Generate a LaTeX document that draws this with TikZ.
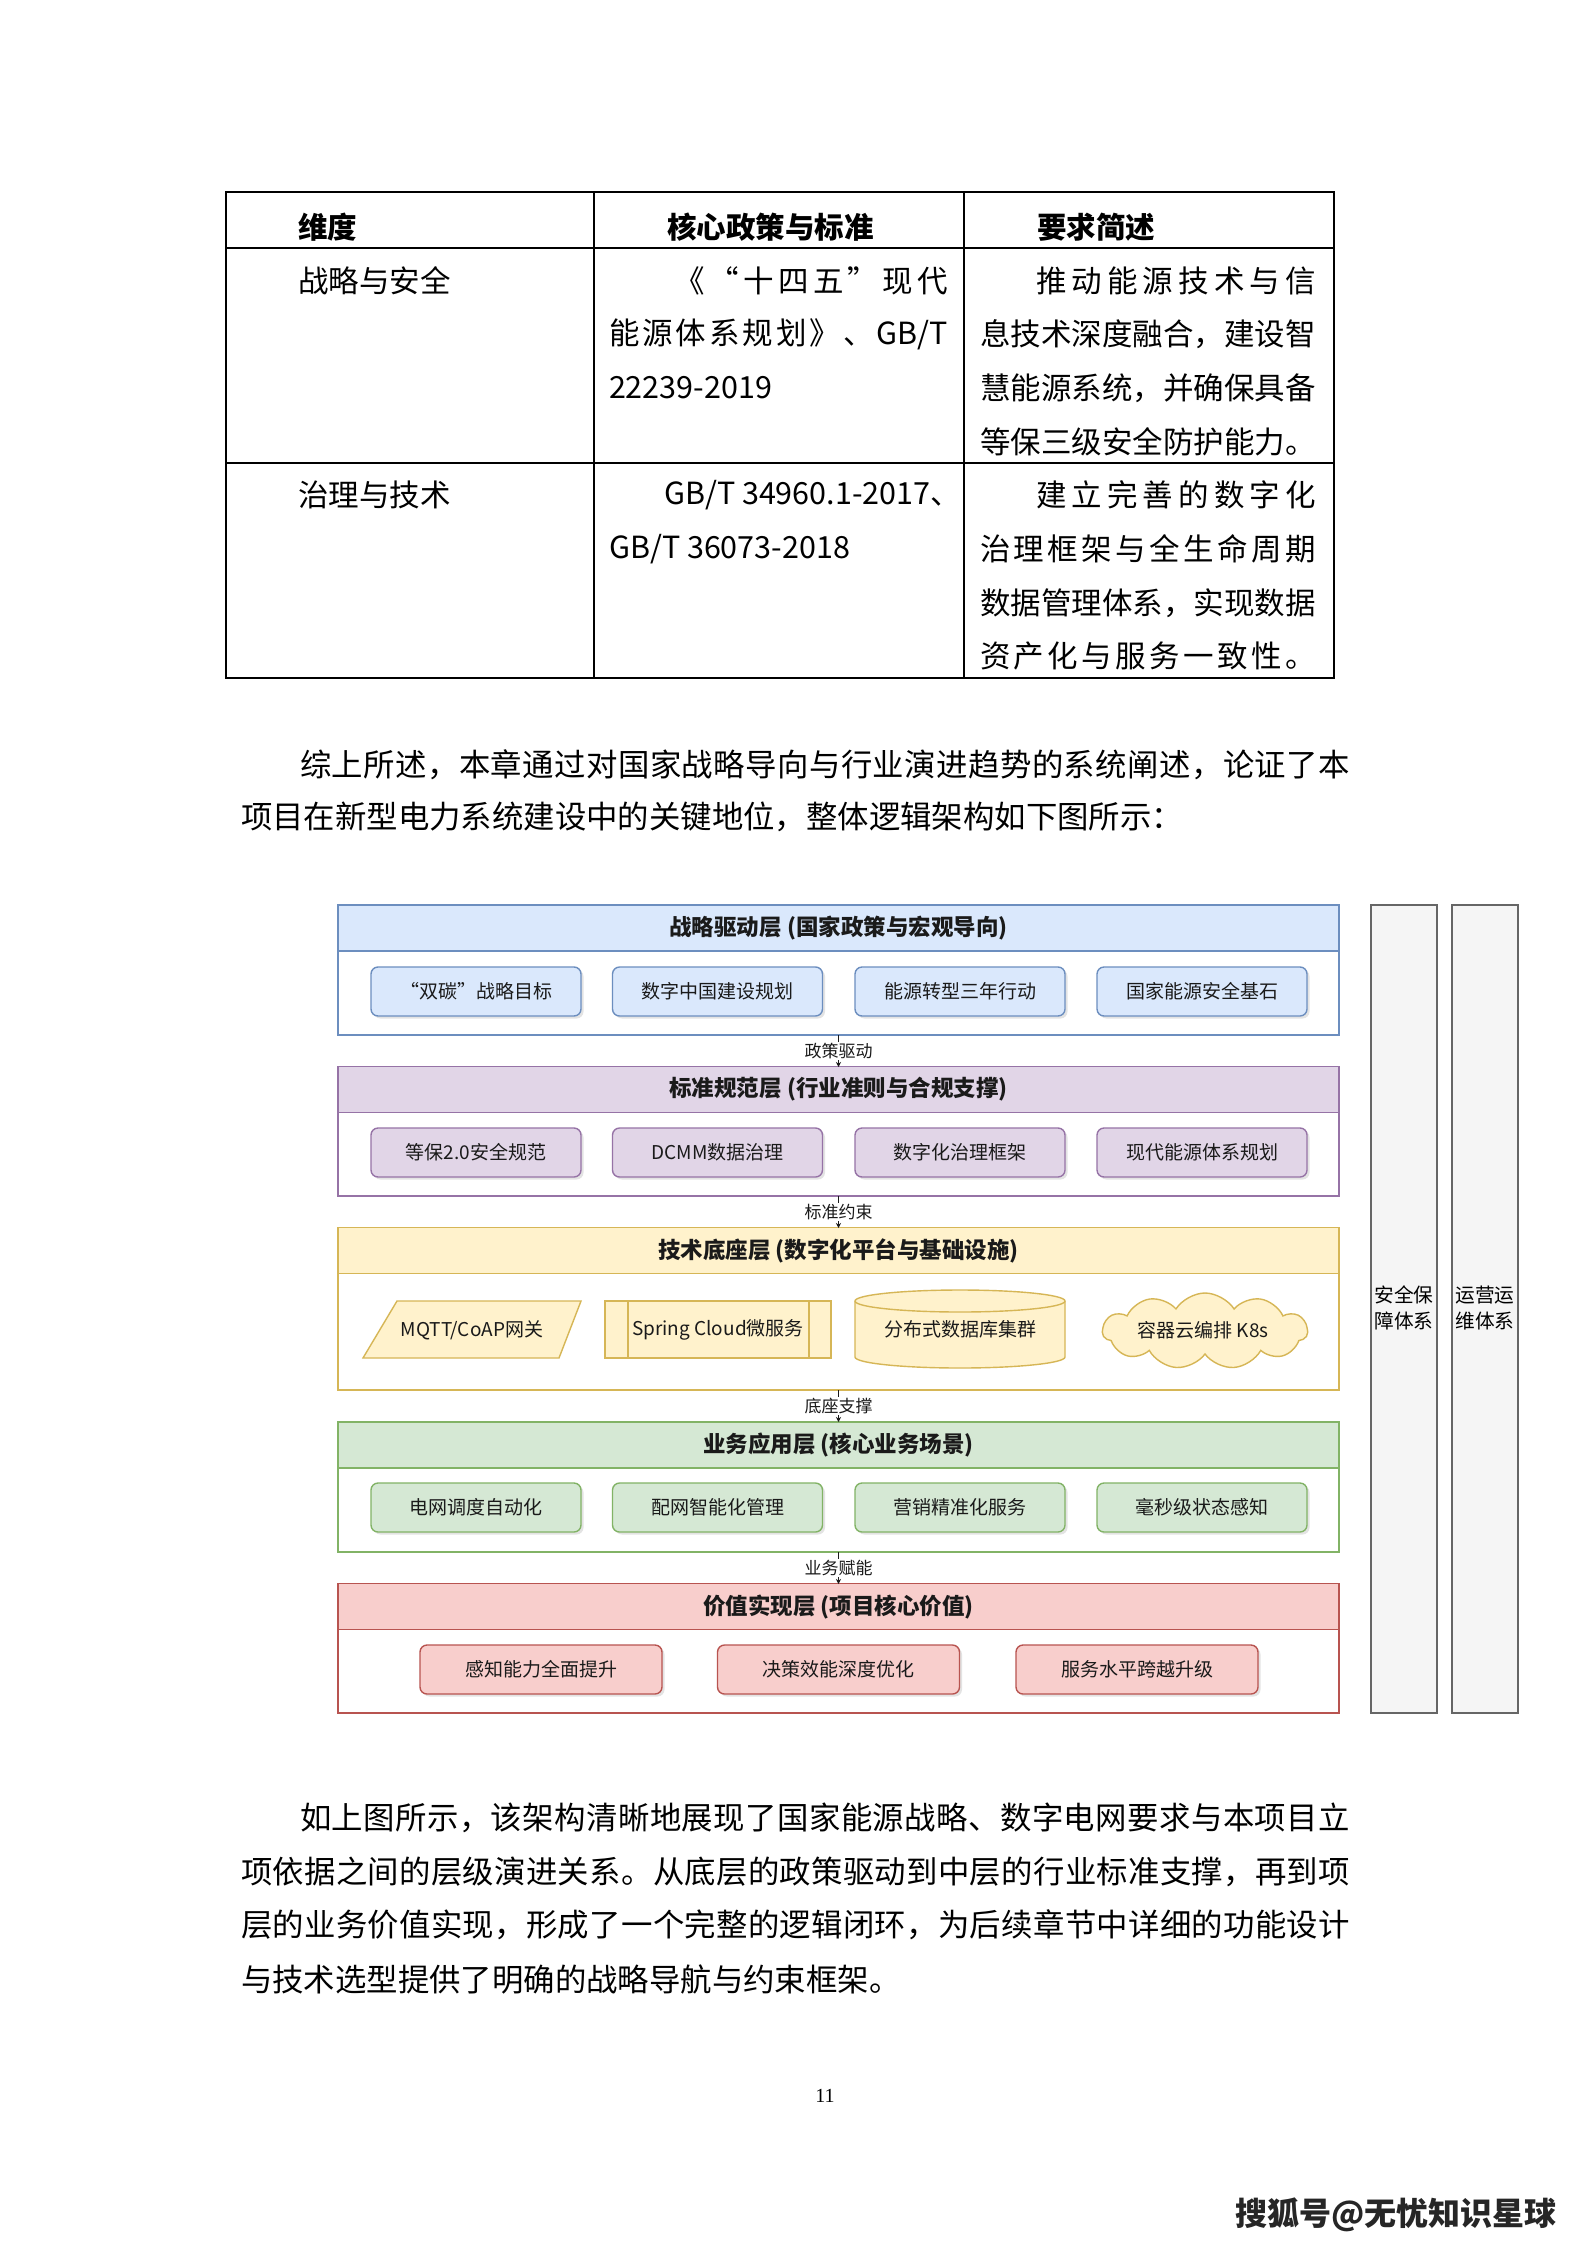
\documentclass[tikz,border=0pt]{standalone}
\usepackage{fontspec}
\setmainfont{Noto Sans CJK SC}
\newfontfamily\numfont{Liberation Serif}
\usetikzlibrary{shapes.symbols,shadows,arrows.meta}

\newcommand\fsz[1]{\fontsize{#1pt}{#1pt}\selectfont}
\newcommand\fszz[2]{\fontsize{#1pt}{#2pt}\selectfont}
\def\spreadit#1{\spreadaux#1\relax}
\def\spreadaux#1{\ifx\relax#1\else#1\hfil\expandafter\spreadaux\fi}
\newcommand\jline[2]{\hbox to #1pt{\spreadit{#2}\unskip}}

\definecolor{bfill}{HTML}{DAE8FC}\definecolor{bline}{HTML}{6C8EBF}
\definecolor{pfill}{HTML}{E1D5E7}\definecolor{pline}{HTML}{9673A6}
\definecolor{yfill}{HTML}{FFF2CC}\definecolor{yline}{HTML}{D6B656}
\definecolor{gfill}{HTML}{D5E8D4}\definecolor{gline}{HTML}{82B366}
\definecolor{rfill}{HTML}{F8CECC}\definecolor{rline}{HTML}{B85450}
\definecolor{sfill}{HTML}{F5F5F5}\definecolor{sline}{HTML}{666666}
\definecolor{ink}{HTML}{1A1A1A}

\begin{document}
\begin{tikzpicture}[x=1pt,y=-1pt,
  every node/.style={inner sep=0pt,outer sep=0pt},
  bodytxt/.style={anchor=west,font={\fsz{31.4}},text=black},
  tbltxt/.style={anchor=west,font={\fsz{30.5}},text=black},
  tblhead/.style={anchor=west,font={\fsz{29.5}\bfseries},text=black},
  tblrule/.style={line width=1.5pt,black},
  layer/.style={draw,line width=1.6pt,fill=white,minimum width=1001pt},
  headband/.style={draw,line width=1.6pt,minimum width=1001pt,minimum height=46pt,font={\fsz{22.5}\bfseries},text=ink},
  item/.style={draw,line width=1.4pt,rounded corners=7pt,minimum height=49pt,font={\fsz{19}},text=ink,
     drop shadow={shadow xshift=2.5pt,shadow yshift=-2.5pt,opacity=0.22}},
  yshape/.style={draw=yline,fill=yfill,line width=1.4pt},
  conn/.style={line width=1.8pt,draw=ink,-{Stealth[length=5pt,width=5pt]}},
  connlbl/.style={fill=white,inner sep=1pt,font={\fsz{17}},text=ink},
  sidecol/.style={draw=sline,fill=sfill,line width=1.5pt,minimum width=66pt,minimum height=808pt},
  sidetxt/.style={align=center,font={\fszz{19.7}{26}},text=black}
]
\useasboundingbox (0,0) rectangle (1587,2245);
\fill[white] (0,0) rectangle (1587,2245);

% ---------------- table ----------------
\draw[tblrule] (226,192) rectangle (1334,678);
\draw[tblrule] (226,248) -- (1334,248);
\draw[tblrule] (226,463) -- (1334,463);
\draw[tblrule] (594,192) -- (594,678);
\draw[tblrule] (964,192) -- (964,678);

\node[tblhead] (th1) at (298,227) {维度};
\node[tblhead] (th2) at (667,227) {核心政策与标准};
\node[tblhead] (th3) at (1037,227) {要求简述};

\node[tbltxt] (r1c1) at (298,281) {战略与安全};
\node[tbltxt] (r1c2a) at (674,281) {\jline{274}{《“十四五”现代}};
\node[tbltxt] (r1c2b) at (609,334) {\hbox to 339pt{能\hfil 源\hfil 体\hfil 系\hfil 规\hfil 划\hfil 》\hfil 、\hfil GB/T}};
\node[tbltxt] (r1c2c) at (609,388) {22239-2019};
\node[tbltxt] (r1c3a) at (1036,281) {\jline{280}{推动能源技术与信}};
\node[tbltxt] (r1c3b) at (980,334) {\jline{336}{息技术深度融合，建设智}};
\node[tbltxt] (r1c3c) at (980,388) {\jline{336}{慧能源系统，并确保具备}};
\node[tbltxt] (r1c3d) at (980,442) {\jline{336}{等保三级安全防护能力。}};

\node[tbltxt] (r2c1) at (298,495) {治理与技术};
\node[tbltxt] (r2c2a) at (664,495) {GB/T 34960.1-2017、};
\node[tbltxt] (r2c2b) at (609,549) {GB/T 36073-2018};
\node[tbltxt] (r2c3a) at (1036,495) {\jline{280}{建立完善的数字化}};
\node[tbltxt] (r2c3b) at (980,549) {\jline{336}{治理框架与全生命周期}};
\node[tbltxt] (r2c3c) at (980,603) {\jline{336}{数据管理体系，实现数据}};
\node[tbltxt] (r2c3d) at (980,656) {\jline{336}{资产化与服务一致性。}};

% ---------------- paragraph 1 ----------------
\node[bodytxt] (p1a) at (300,765) {\jline{1050}{综上所述，本章通过对国家战略导向与行业演进趋势的系统阐述，论证了本}};
\node[bodytxt] (p1b) at (241,817) {项目在新型电力系统建设中的关键地位，整体逻辑架构如下图所示：};

% ---------------- diagram: layers ----------------
% layer 1 blue
\node[layer,draw=bline,minimum height=130pt] (L1) at (838.5,970) {};
\node[headband,draw=bline,fill=bfill] (H1) at (838.5,928) {战略驱动层 (国家政策与宏观导向)};
\node[item,draw=bline,fill=bfill,minimum width=210pt] (b1) at (476,991.5) {“双碳”战略目标};
\node[item,draw=bline,fill=bfill,minimum width=210pt] (b2) at (717.5,991.5) {数字中国建设规划};
\node[item,draw=bline,fill=bfill,minimum width=210pt] (b3) at (960,991.5) {能源转型三年行动};
\node[item,draw=bline,fill=bfill,minimum width=210pt] (b4) at (1202,991.5) {国家能源安全基石};

% layer 2 purple
\node[layer,draw=pline,minimum height=129pt] (L2) at (838.5,1131.5) {};
\node[headband,draw=pline,fill=pfill] (H2) at (838.5,1089.5) {标准规范层 (行业准则与合规支撑)};
\node[item,draw=pline,fill=pfill,minimum width=210pt] (p1) at (476,1152.5) {等保2.0安全规范};
\node[item,draw=pline,fill=pfill,minimum width=210pt] (p2) at (717.5,1152.5) {DCMM数据治理};
\node[item,draw=pline,fill=pfill,minimum width=210pt] (p3) at (960,1152.5) {数字化治理框架};
\node[item,draw=pline,fill=pfill,minimum width=210pt] (p4) at (1202,1152.5) {现代能源体系规划};

% layer 3 yellow
\node[layer,draw=yline,minimum height=162pt] (L3) at (838.5,1309) {};
\node[headband,draw=yline,fill=yfill] (H3) at (838.5,1250.5) {技术底座层 (数字化平台与基础设施)};
% parallelogram
\draw[yshape] (397,1301) -- (581,1301) -- (559,1358) -- (363,1358) -- cycle;
\node[font={\fsz{19}},text=ink] (y1) at (472,1330) {MQTT/CoAP网关};
% process box
\node[draw=yline,fill=yfill,line width=1.4pt,minimum width=226pt,minimum height=57pt,font={\fsz{19}},text=ink] (y2) at (718,1329.5) {Spring Cloud微服务};
\draw[draw=yline,line width=1.4pt] ([xshift=23pt]y2.north west) -- ([xshift=23pt]y2.south west);
\draw[draw=yline,line width=1.4pt] ([xshift=-22pt]y2.north east) -- ([xshift=-22pt]y2.south east);
% cylinder
\draw[yshape] (855,1301) -- (855,1357) arc[start angle=180,end angle=360,x radius=105pt,y radius=11pt]
  -- (1065,1301) arc[start angle=0,end angle=180,x radius=105pt,y radius=11pt] -- cycle;
\draw[draw=yline,line width=1.4pt] (855,1301) arc[start angle=180,end angle=360,x radius=105pt,y radius=11pt];
\node[font={\fsz{19}},text=ink] (y3) at (960,1329) {分布式数据库集群};
% cloud
\node[cloud,cloud puffs=11,cloud puff arc=115,aspect=2.6,draw=yline,fill=yfill,line width=1.4pt,
      minimum width=205pt,minimum height=76pt] (y4c) at (1205,1331) {};
\node[font={\fsz{19}},text=ink] (y4) at (1203,1330) {容器云编排 K8s};

% layer 4 green
\node[layer,draw=gline,minimum height=130pt] (L4) at (838.5,1487) {};
\node[headband,draw=gline,fill=gfill] (H4) at (838.5,1445) {业务应用层 (核心业务场景)};
\node[item,draw=gline,fill=gfill,minimum width=210pt] (g1) at (476,1507.5) {电网调度自动化};
\node[item,draw=gline,fill=gfill,minimum width=210pt] (g2) at (717.5,1507.5) {配网智能化管理};
\node[item,draw=gline,fill=gfill,minimum width=210pt] (g3) at (960,1507.5) {营销精准化服务};
\node[item,draw=gline,fill=gfill,minimum width=210pt] (g4) at (1202,1507.5) {毫秒级状态感知};

% layer 5 red
\node[layer,draw=rline,minimum height=129pt] (L5) at (838.5,1648.5) {};
\node[headband,draw=rline,fill=rfill] (H5) at (838.5,1606.5) {价值实现层 (项目核心价值)};
\node[item,draw=rline,fill=rfill,minimum width=242pt] (v1) at (541,1669.5) {感知能力全面提升};
\node[item,draw=rline,fill=rfill,minimum width=242pt] (v2) at (838.5,1669.5) {决策效能深度优化};
\node[item,draw=rline,fill=rfill,minimum width=242pt] (v3) at (1137,1669.5) {服务水平跨越升级};

% connectors
\draw[conn] (L1.south) -- (L2.north) node[midway,connlbl] (c1) {政策驱动};
\draw[conn] (L2.south) -- (L3.north) node[midway,connlbl] (c2) {标准约束};
\draw[conn] (L3.south) -- (L4.north) node[midway,connlbl] (c3) {底座支撑};
\draw[conn] (L4.south) -- (L5.north) node[midway,connlbl] (c4) {业务赋能};

% side columns
\node[sidecol] (S1) at (1404,1309) {};
\node[sidecol] (S2) at (1485,1309) {};
\node[sidetxt] (S1t) at (1404,1308) {安全保\\障体系};
\node[sidetxt] (S2t) at (1485,1308) {运营运\\维体系};

% ---------------- paragraph 2 ----------------
\node[bodytxt] (p2a) at (300,1818) {\jline{1050}{如上图所示，该架构清晰地展现了国家能源战略、数字电网要求与本项目立}};
\node[bodytxt] (p2b) at (241,1872) {\jline{1109}{项依据之间的层级演进关系。从底层的政策驱动到中层的行业标准支撑，再到项}};
\node[bodytxt] (p2c) at (241,1925) {\jline{1109}{层的业务价值实现，形成了一个完整的逻辑闭环，为后续章节中详细的功能设计}};
\node[bodytxt] (p2d) at (241,1979) {与技术选型提供了明确的战略导航与约束框架。};

% page number and mark
\node[font={\numfont\fsz{20}},text=black] (pg) at (825,2096) {11};
\node[font={\fsz{32}\bfseries},text=black!85] (wm) at (1396,2215) {搜狐号@无忧知识星球};
\end{tikzpicture}
\end{document}
